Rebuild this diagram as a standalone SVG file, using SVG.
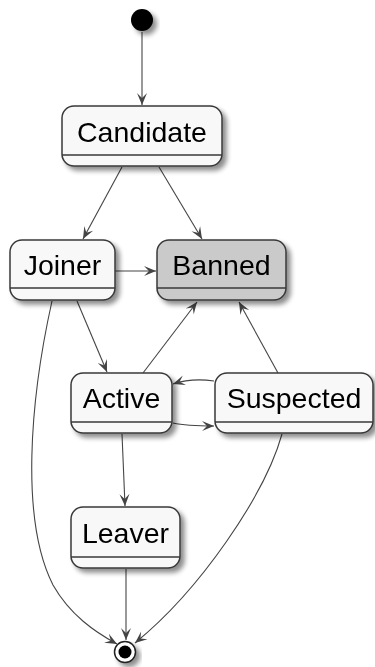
<svg xmlns="http://www.w3.org/2000/svg" width="375" height="667" viewBox="0 0 375 667">
  <style>
    .box { fill: #F8F8F8; stroke: #383838; stroke-width: 1.5; }
    .banned { fill: #CACACA; }
    .sep { stroke: #383838; stroke-width: 1.5; fill: none; }
    .label { font-family: "Liberation Sans", Arial, sans-serif; font-size: 28.5px; fill: #000; text-anchor: middle; }
    .edge { fill: none; stroke: #444444; stroke-width: 1.1; marker-end: url(#arrow); }
  </style>
  <defs>
    <filter id="shadow" x="-20%" y="-20%" width="150%" height="160%">
      <feGaussianBlur in="SourceAlpha" stdDeviation="2.5"/>
      <feOffset dx="4" dy="4" result="off"/>
      <feComponentTransfer><feFuncA type="linear" slope="0.45"/></feComponentTransfer>
      <feMerge><feMergeNode/><feMergeNode in="SourceGraphic"/></feMerge>
    </filter>
    <marker id="arrow" viewBox="-13 -7 14 14" refX="0" refY="0" markerWidth="14" markerHeight="14" markerUnits="userSpaceOnUse" orient="auto">
      <path d="M0,0 L-12,-5 L-7,0 L-12,5 Z" fill="#444444"/>
    </marker>
  </defs>
  <rect width="375" height="667" fill="#FFFFFF"/>

  <!-- connectors -->
  <g id="connectors">
    <path class="edge" d="M142,32 L142,105"/>
    <path class="edge" d="M122,167 L83,239"/>
    <path class="edge" d="M159,167 L202,239"/>
    <path class="edge" d="M115,271 L156,271"/>
    <path class="edge" d="M77,301 L107,372"/>
    <path class="edge" d="M52,301 C30,400 20,520 53,585 C70,615 95,632 117,644"/>
    <path class="edge" d="M143,373 L197,302"/>
    <path class="edge" d="M278,373 L239,302"/>
    <path class="edge" d="M214,381 C200,379 185,380 173,384"/>
    <path class="edge" d="M173,423 C186,426 200,426 214,426"/>
    <path class="edge" d="M122,434 L125,506"/>
    <path class="edge" d="M126,569 L126,640"/>
    <path class="edge" d="M282,434 C265,495 200,590 135,643"/>
  </g>

  <!-- initial state -->
  <g id="start">
    <circle cx="142" cy="20" r="11" fill="#000" filter="url(#shadow)"/>
  </g>

  <g id="candidate" filter="url(#shadow)">
    <rect class="box" x="62" y="106" width="160" height="60" rx="12"/>
    <line class="sep" x1="62" y1="155" x2="222" y2="155"/>
    <text class="label" x="142" y="142">Candidate</text>
  </g>

  <g id="joiner" filter="url(#shadow)">
    <rect class="box" x="10" y="240" width="105" height="60" rx="12"/>
    <line class="sep" x1="10" y1="288" x2="115" y2="288"/>
    <text class="label" x="62.5" y="275">Joiner</text>
  </g>

  <g id="banned" filter="url(#shadow)">
    <rect class="box banned" x="157" y="240" width="129" height="60" rx="12"/>
    <line class="sep" x1="157" y1="288" x2="286" y2="288"/>
    <text class="label" x="221.5" y="275">Banned</text>
  </g>

  <g id="active" filter="url(#shadow)">
    <rect class="box" x="71" y="373" width="101" height="60" rx="12"/>
    <line class="sep" x1="71" y1="422" x2="172" y2="422"/>
    <text class="label" x="121.5" y="408">Active</text>
  </g>

  <g id="suspected" filter="url(#shadow)">
    <rect class="box" x="215" y="373" width="158" height="60" rx="12"/>
    <line class="sep" x1="215" y1="422" x2="373" y2="422"/>
    <text class="label" x="294" y="408">Suspected</text>
  </g>

  <g id="leaver" filter="url(#shadow)">
    <rect class="box" x="71" y="507" width="109" height="61" rx="12"/>
    <line class="sep" x1="71" y1="557" x2="180" y2="557"/>
    <text class="label" x="125.5" y="543">Leaver</text>
  </g>

  <!-- final state -->
  <g id="end" filter="url(#shadow)">
    <circle cx="125" cy="652" r="10.5" fill="#FFFFFF" stroke="#222222" stroke-width="1.5"/>
    <circle cx="125" cy="652" r="6.5" fill="#000"/>
  </g>
</svg>
